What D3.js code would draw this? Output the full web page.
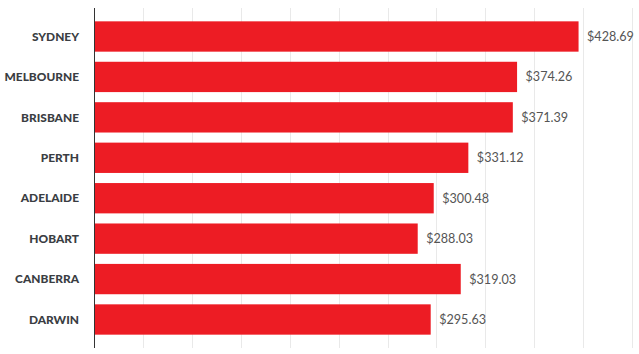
<!DOCTYPE html>
<html><head><meta charset="utf-8">
<script src="https://cdn.jsdelivr.net/npm/d3@7"></script>
<style>body{margin:0;background:#fff}svg{display:block}</style>
</head><body>
<script>
const cities = ["SYDNEY","MELBOURNE","BRISBANE","PERTH","ADELAIDE","HOBART","CANBERRA","DARWIN"];
const values = [428.69,374.26,370.5,331.12,300.48,286.3,324.4,297.8];
const valueLabels = ["$428.69","$374.26","$371.39","$331.12","$300.48","$288.03","$319.03","$295.63"];
const xMax = 476;
const gridCount = 11;

const W = 639, H = 354;
const svg = d3.select("body").append("svg").attr("width", W).attr("height", H);
const x = d3.scaleLinear().domain([0, xMax]).range([94.3, 632]);
const y = d3.scaleBand().domain(cities).range([8, 348]).paddingInner(0.25).paddingOuter(0.33);

const grid = d3.range(1, gridCount + 1).map(i => xMax * i / gridCount);
svg.append("g").selectAll("line").data(grid).join("line")
  .attr("x1", d => Math.round(x(d)) + 0.5).attr("x2", d => Math.round(x(d)) + 0.5)
  .attr("y1", 8).attr("y2", 348).attr("stroke", "#e9e9e9").attr("stroke-width", 1);

svg.append("g").selectAll("rect").data(cities).join("rect")
  .attr("x", x(0)).attr("y", d => y(d)).attr("height", y.bandwidth())
  .attr("width", (d, i) => x(values[i]) - x(0)).attr("fill", "#ED1C24");

svg.append("line").attr("x1", 94.5).attr("x2", 94.5).attr("y1", 8).attr("y2", 348)
  .attr("stroke", "#333").attr("stroke-width", 1);

svg.append("g").selectAll("text").data(cities).join("text")
  .attr("x", 79).attr("y", d => y(d) + y.bandwidth() / 2).attr("dy", "0.36em")
  .attr("text-anchor", "end").attr("font-family", "Lato").attr("font-weight", 900)
  .attr("font-size", 11.9).attr("fill", "#3a3d42").text(d => d);

svg.append("g").selectAll("text").data(cities).join("text")
  .attr("x", (d, i) => x(values[i]) + 8.5).attr("y", d => y(d) + y.bandwidth() / 2).attr("dy", "0.36em")
  .attr("font-family", "Lato").attr("font-size", 12.6).attr("fill", "#555")
  .text((d, i) => valueLabels[i]);
</script>
</body></html>
